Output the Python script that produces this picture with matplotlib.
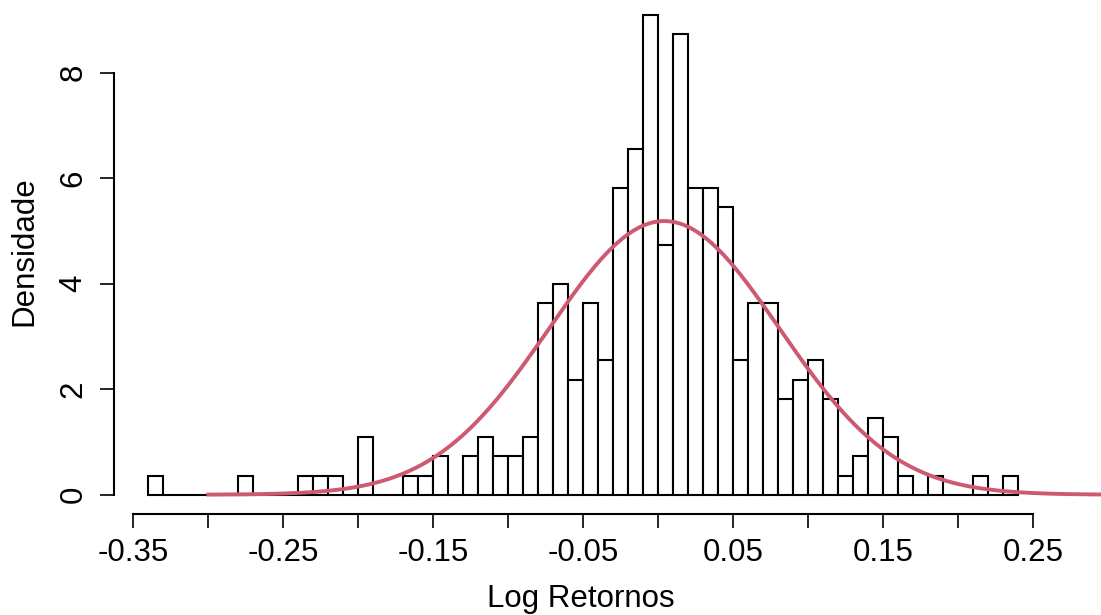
import numpy as np
import matplotlib.pyplot as plt

# histogram of log returns, bins of width 0.01 starting at -0.34
bin_width = 0.01
bin_starts = [round(-0.34 + i * bin_width, 2) for i in range(58)]
counts = [
    1, 0, 0, 0, 0, 0, 1, 0, 0, 0,      # -0.34 .. -0.25
    1, 1, 1, 0, 3, 0, 0, 1, 1, 2,      # -0.24 .. -0.15
    0, 2, 3, 2, 2, 3, 10, 11, 6, 10,   # -0.14 .. -0.05
    7, 16, 18, 25, 13, 24, 16, 16, 15, 7,  # -0.04 .. 0.05
    10, 10, 5, 6, 7, 5, 1, 2, 4, 3,    # 0.06 .. 0.15
    1, 0, 1, 0, 0, 1, 0, 1,            # 0.16 .. 0.23
]

# fitted normal curve
mu = 0.004
sigma = 0.0769
curve_from, curve_to = -0.30, 0.30

x_ticks = [-0.35, -0.30, -0.25, -0.20, -0.15, -0.10, -0.05, 0.00, 0.05, 0.10, 0.15, 0.20, 0.25]
x_tick_labels = ["-0.35", "", "-0.25", "", "-0.15", "", "-0.05", "", "0.05", "", "0.15", "", "0.25"]
y_ticks = [0, 2, 4, 6, 8]

plt.rcParams['font.family'] = ['Liberation Sans', 'DejaVu Sans']

n_total = sum(counts)
density = [c / (n_total * bin_width) for c in counts]

fig = plt.figure(figsize=(11.01, 6.15), dpi=100)
ax = fig.add_axes([113.5 / 1101, (615 - 514) / 615, (1101 - 113.5) / 1101, 514 / 615])

ax.bar(bin_starts, density, width=bin_width, align='edge',
       facecolor='white', edgecolor='black', linewidth=1.5)

xs = np.linspace(curve_from, curve_to, 400)
ys = np.exp(-0.5 * ((xs - mu) / sigma) ** 2) / (sigma * np.sqrt(2 * np.pi))
ax.plot(xs, ys, color='#CD5A70', linewidth=2.8, clip_on=False)

ax.set_xlim(-0.3632, -0.3632 + 987.5 / 1500)
ax.set_ylim(-0.366, -0.366 + 514 / 52.75)

for side in ['top', 'right']:
    ax.spines[side].set_visible(False)
ax.spines['left'].set_bounds(0, 8)
ax.spines['bottom'].set_bounds(-0.35, 0.25)
ax.spines['left'].set_linewidth(1.5)
ax.spines['bottom'].set_linewidth(1.5)

ax.set_xticks(x_ticks)
ax.set_xticklabels(x_tick_labels)
ax.set_yticks(y_ticks)
ax.set_yticklabels([str(v) for v in y_ticks], rotation=90, va='center')
ax.tick_params(length=10, width=1.2, labelsize=22.5)
ax.tick_params(axis='x', pad=7)
ax.tick_params(axis='y', pad=8)

fig.text(581 / 1101, 1 - 599 / 615, "Log Retornos", ha='center', va='center', fontsize=22.5)
fig.text(24 / 1101, 1 - 251 / 615, "Densidade", ha='center', va='center',
         rotation=90, fontsize=22.5)

fig.savefig("out.png", dpi=100)
